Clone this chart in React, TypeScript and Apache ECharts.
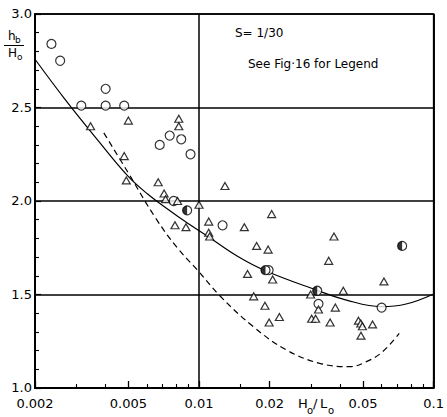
import React, { useEffect, useRef } from "react";
import * as echarts from "echarts";

// ---- data ----
const openCircleX = [0.00235, 0.00256, 0.004, 0.00315, 0.004, 0.0048, 0.0068, 0.0075, 0.0084, 0.0092, 0.0078, 0.0126, 0.0198, 0.0323, 0.06];
const openCircleY = [2.84, 2.75, 2.6, 2.51, 2.51, 2.51, 2.3, 2.35, 2.33, 2.25, 2.0, 1.87, 1.63, 1.45, 1.43];

const halfCircleX = [0.0089, 0.0192, 0.0319, 0.0734];
const halfCircleY = [1.95, 1.63, 1.52, 1.76];

const triangleX = [0.00345, 0.005, 0.0048, 0.0049, 0.0082, 0.0082, 0.0067, 0.0071, 0.0072, 0.0081, 0.01, 0.0079, 0.0088, 0.011, 0.011, 0.0111, 0.0129, 0.0156, 0.0204, 0.0176, 0.0197, 0.0161, 0.0206, 0.0171, 0.0191, 0.0199, 0.022, 0.0299, 0.0376, 0.0357, 0.0412, 0.0381, 0.0302, 0.0314, 0.0362, 0.0478, 0.0489, 0.0497, 0.049, 0.0549, 0.0614, 0.0323];
const triangleY = [2.4, 2.43, 2.24, 2.11, 2.44, 2.4, 2.1, 2.04, 2.01, 2.0, 1.98, 1.87, 1.86, 1.89, 1.83, 1.81, 2.08, 1.86, 1.93, 1.76, 1.74, 1.61, 1.58, 1.49, 1.44, 1.35, 1.38, 1.5, 1.81, 1.68, 1.52, 1.43, 1.37, 1.37, 1.35, 1.36, 1.345, 1.33, 1.28, 1.34, 1.57, 1.42];

const solidCurveX = [0.002, 0.00268, 0.00365, 0.00497, 0.00604, 0.00734, 0.00892, 0.01084, 0.01453, 0.0192, 0.0316, 0.0425, 0.0598, 0.0763, 0.1];
const solidCurveY = [2.758, 2.545, 2.335, 2.134, 2.037, 1.957, 1.882, 1.813, 1.706, 1.627, 1.524, 1.47, 1.435, 1.449, 1.503];

const dashedCurveX = [0.00393, 0.00497, 0.00653, 0.00809, 0.00984, 0.0123, 0.01703, 0.0236, 0.0327, 0.0438, 0.0517, 0.0606, 0.0713];
const dashedCurveY = [2.364, 2.155, 1.909, 1.749, 1.631, 1.492, 1.328, 1.203, 1.132, 1.114, 1.141, 1.194, 1.292];

const xTickValues = [0.002, 0.005, 0.01, 0.02, 0.05, 0.1];
const xTickLabels = ["0.002", "0.005", "0.01", "0.02", "0.05", "0.1"];
const xMinorTicks = [0.003, 0.004, 0.006, 0.007, 0.008, 0.009, 0.015, 0.03, 0.04, 0.06, 0.07, 0.08, 0.09];

const xMin = 0.002;
const xMax = 0.1;
const yMin = 1.0;
const yMax = 3.0;
const yInterval = 0.5;

const FONT = "'DejaVu Sans', sans-serif";

const zip = (xs: number[], ys: number[]) => xs.map((x, i) => [x, ys[i]]);

export default function App() {
  const ref = useRef<HTMLDivElement>(null);

  useEffect(() => {
    if (!ref.current) return;
    const chart = echarts.init(ref.current, undefined, { renderer: "svg" });
    const lgMin = Math.log10(xMin);
    const lgMax = Math.log10(xMax);
    const majorLg = xTickValues.map((v) => Math.log10(v));
    const minorLg = xMinorTicks.map((v) => Math.log10(v));

    const labelFor = (v: number) => {
      const i = majorLg.findIndex((t) => Math.abs(t - v) < 1e-6);
      return i >= 0 ? xTickLabels[i] : "";
    };

    const markerStyle = { color: "#fff", borderColor: "#000", borderWidth: 1.2 };

    chart.setOption({
      animation: false,
      backgroundColor: "#fff",
      grid: {
        left: 35,
        right: 10,
        top: 14,
        bottom: 29,
        show: true,
        borderColor: "#000",
        borderWidth: 1.6,
      },
      xAxis: [
        {
          type: "log",
          logBase: 10,
          min: xMin,
          max: xMax,
          position: "bottom",
          axisLine: { show: true, lineStyle: { color: "#000", width: 2 } },
          axisTick: { show: false },
          axisLabel: { show: false },
          splitLine: { show: true, lineStyle: { color: "#000", width: 1.5 } },
        },
        {
          type: "value",
          min: lgMin,
          max: lgMax,
          position: "bottom",
          axisLine: { show: false },
          axisTick: { show: true, inside: true, length: 7, customValues: majorLg, lineStyle: { color: "#000", width: 1.3 } },
          axisLabel: {
            show: true,
            customValues: majorLg,
            formatter: labelFor,
            color: "#000",
            fontFamily: FONT,
            fontSize: 13,
            margin: 9,
          },
          splitLine: { show: false },
        },
        {
          type: "value",
          min: lgMin,
          max: lgMax,
          position: "bottom",
          axisLine: { show: false },
          axisTick: { show: true, inside: true, length: 4, customValues: minorLg, lineStyle: { color: "#000", width: 1.1 } },
          axisLabel: { show: false },
          splitLine: { show: false },
        },
      ],
      yAxis: {
        type: "value",
        min: yMin,
        max: yMax,
        interval: yInterval,
        axisLine: { show: true, lineStyle: { color: "#000", width: 2 } },
        axisTick: { show: true, inside: true, length: 6, lineStyle: { color: "#000", width: 1.2 } },
        minorTick: { show: true, splitNumber: 5, length: 4, lineStyle: { color: "#000", width: 1.1 } },
        axisLabel: {
          formatter: (v: number) => v.toFixed(1),
          color: "#000",
          fontFamily: FONT,
          fontSize: 13,
          margin: 3,
          verticalAlign: "bottom",
          lineHeight: 13,
          padding: [0, 0, -6, 0],
        },
        splitLine: { show: true, lineStyle: { color: "#000", width: 1.5 } },
      },
      series: [
        {
          type: "line",
          xAxisIndex: 0,
          data: zip(solidCurveX, solidCurveY),
          smooth: 0.4,
          showSymbol: false,
          lineStyle: { color: "#000", width: 1.2 },
          z: 2,
        },
        {
          type: "line",
          xAxisIndex: 0,
          data: zip(dashedCurveX, dashedCurveY),
          smooth: 0.4,
          showSymbol: false,
          lineStyle: { color: "#000", width: 1.2, type: [6, 4] },
          z: 2,
        },
        {
          type: "scatter",
          xAxisIndex: 0,
          data: zip(openCircleX, openCircleY),
          symbol: "circle",
          symbolSize: 9,
          itemStyle: markerStyle,
          z: 3,
        },
        {
          type: "scatter",
          xAxisIndex: 0,
          data: zip(triangleX, triangleY),
          symbol: "triangle",
          symbolSize: [8, 7],
          itemStyle: markerStyle,
          z: 3,
        },
        {
          type: "scatter",
          xAxisIndex: 0,
          data: zip(halfCircleX, halfCircleY),
          symbol: "circle",
          symbolSize: 9,
          itemStyle: markerStyle,
          z: 4,
        },
        {
          type: "scatter",
          xAxisIndex: 0,
          data: zip(halfCircleX, halfCircleY),
          symbol: "path://M10,0 A10,10 0 0,0 10,20 Z",
          symbolSize: [4.5, 9],
          symbolOffset: [-2.25, 0],
          itemStyle: { color: "#000", borderWidth: 0 },
          z: 5,
        },
      ],
      graphic: [
        { type: "text", x: 8, y: 30, style: { text: "h", font: `12px ${FONT}`, fill: "#000", verticalAlign: "top" } },
        { type: "text", x: 15, y: 35, style: { text: "b", font: `9px ${FONT}`, fill: "#000", verticalAlign: "top" } },
        { type: "line", shape: { x1: 4, y1: 45.5, x2: 24, y2: 45.5 }, style: { stroke: "#000", lineWidth: 1 } },
        { type: "text", x: 8, y: 47, style: { text: "H", font: `12px ${FONT}`, fill: "#000", verticalAlign: "top" } },
        { type: "text", x: 17, y: 52, style: { text: "o", font: `9px ${FONT}`, fill: "#000", verticalAlign: "top" } },
        { type: "text", x: 235, y: 27, style: { text: "S= 1/30", font: `12px ${FONT}`, fill: "#000", verticalAlign: "top" } },
        { type: "text", x: 248, y: 58, style: { text: "See Fig\u00b716 for Legend", font: `12px ${FONT}`, fill: "#000", verticalAlign: "top" } },
        { type: "text", x: 298, y: 397, style: { text: "H", font: `13px ${FONT}`, fill: "#000", verticalAlign: "top" } },
        { type: "text", x: 307, y: 405, style: { text: "o", font: `10px ${FONT}`, fill: "#000", verticalAlign: "top" } },
        { type: "text", x: 313, y: 397, style: { text: "/", font: `13px ${FONT}`, fill: "#000", verticalAlign: "top" } },
        { type: "text", x: 320, y: 397, style: { text: "L", font: `13px ${FONT}`, fill: "#000", verticalAlign: "top" } },
        { type: "text", x: 328, y: 405, style: { text: "o", font: `10px ${FONT}`, fill: "#000", verticalAlign: "top" } },
      ],
    });
    return () => chart.dispose();
  }, []);

  return (
    <div
      ref={ref}
      style={{ position: "fixed", left: 0, top: 0, width: 447, height: 417, background: "#fff" }}
    />
  );
}
